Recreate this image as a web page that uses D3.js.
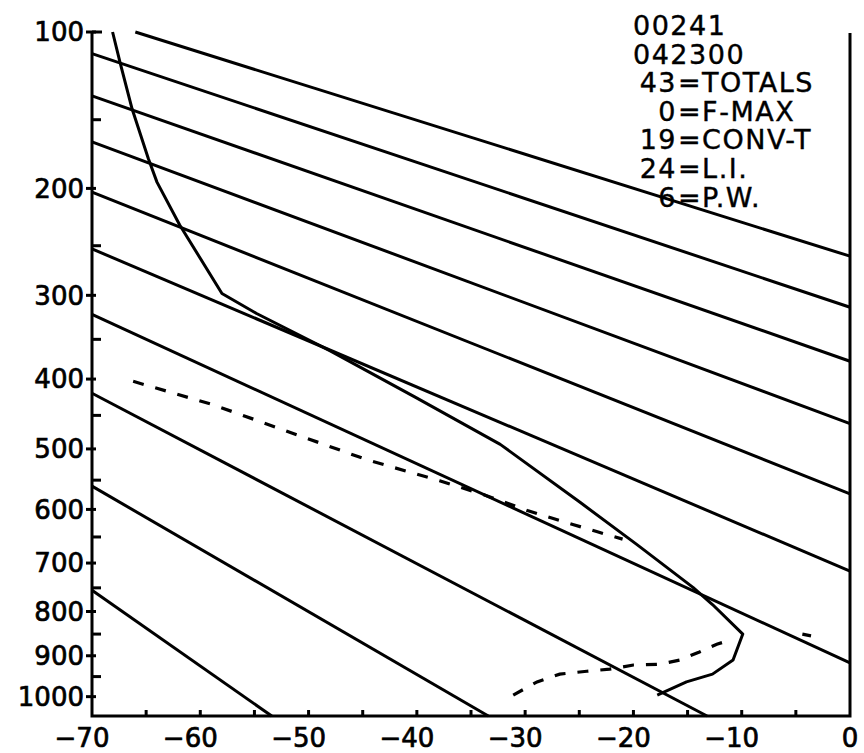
<!DOCTYPE html>
<html>
<head>
<meta charset="utf-8">
<script src="https://cdn.jsdelivr.net/npm/d3@7"></script>
<style>
  body { margin: 0; background: #fff; }
  svg { display: block; }
  text { font-family: "DejaVu Sans", sans-serif; fill: #000; }
</style>
</head>
<body>
<svg id="chart" width="864" height="753"></svg>
<script>
const tempProfile = [
    [-68.1, 100], [-67.4, 116], [-66.3, 143], [-64.8, 177], [-64.0, 195],
    [-61.9, 231], [-58.0, 298], [-54.8, 320], [-48.0, 364], [-40.2, 424],
    [-32.3, 493], [-24.9, 588], [-19.7, 664], [-14.5, 749], [-12.7, 785],
    [-9.9, 850], [-10.8, 910], [-12.7, 944], [-15.1, 963], [-17.8, 996]
];
const dewUpper = [
    [-66.2, 403], [-58.8, 435], [-50.8, 480], [-44.6, 517], [-37.9, 551],
    [-33.9, 574], [-29.8, 602], [-25.6, 627], [-23.4, 640], [-21.0, 654]
];
const dewLower = [
    [-31.1, 996], [-28.9, 963], [-26.8, 944], [-24.3, 937], [-22.2, 932],
    [-20.0, 922], [-17.5, 920], [-15.7, 910], [-13.9, 891], [-12.3, 873],
    [-10.8, 862]
];
const dewStray = [[-4.4, 850], [-3.6, 854]];

// dry adiabats, start and end points [T1, p1, T2, p2]
const adiabats = [
    [-66.0, 100, 0, 260],
    [-70, 111, 0, 313],
    [-70, 135, 0, 377],
    [-70, 165, 0, 462],
    [-70, 203, 0, 573],
    [-70, 253, 0, 716],
    [-70, 321, 0, 917],
    [-70, 419, -13.2, 1050],
    [-70, 560, -33.4, 1050],
    [-70, 755, -53.4, 1050]
];

const pressureTicks = [100, 200, 300, 400, 500, 600, 700, 800, 900, 1000];
const pressureMinor = [150, 250, 350, 450, 550, 650, 750, 850, 950];
const tempTicks = [-70, -60, -50, -40, -30, -20, -10, 0];
const tempMinor = d3.range(-65, 0, 5);

const headerLines = ["00241", "042300"];
const indexValues = ["43", "0", "19", "24", "6"];
const indexNames = ["TOTALS", "F-MAX", "CONV-T", "L.I.", "P.W."];

const svg = d3.select("#chart");

let x = d3.scaleLinear().domain([-70, 0]).range([92, 850]);
let y = d3.scalePow().exponent(0.2857).domain([100, 1050]).range([32, 716]);

let line = d3.line().x(d => x(d[0])).y(d => y(d[1]));
let W = 3;

// frame
svg.append("path")
    .attr("d", "M" + x(-70) + "," + (y(100) - 1) + " V" + y(1050) + " H" + x(0) + " V" + (y(100) + 1))
    .attr("fill", "none").attr("stroke", "#000").attr("stroke-width", W);
svg.append("line")
    .attr("x1", x(-70)).attr("x2", x(-70) + 10).attr("y1", y(100)).attr("y2", y(100))
    .attr("stroke", "#000").attr("stroke-width", W);

// left axis ticks
let g = svg.append("g");
pressureTicks.forEach(function(p) {
    g.append("line")
        .attr("x1", x(-70) - 6).attr("x2", x(-70) + 4)
        .attr("y1", y(p)).attr("y2", y(p))
        .attr("stroke", "#000").attr("stroke-width", W);
    g.append("text")
        .attr("x", 84).attr("y", y(p))
        .attr("dy", "0.36em")
        .attr("text-anchor", "end")
        .style("font-size", "26px")
        .style("stroke", "#000").style("stroke-width", "0.7px")
        .text(p);
});
pressureMinor.forEach(function(p) {
    g.append("line")
        .attr("x1", x(-70)).attr("x2", x(-70) + 9)
        .attr("y1", y(p)).attr("y2", y(p))
        .attr("stroke", "#000").attr("stroke-width", W);
});

// bottom axis ticks
tempMinor.forEach(function(t) {
    g.append("line")
        .attr("x1", x(t)).attr("x2", x(t))
        .attr("y1", y(1050)).attr("y2", y(1050) - 6)
        .attr("stroke", "#000").attr("stroke-width", W);
});
tempTicks.forEach(function(t) {
    g.append("text")
        .attr("x", x(t) + (t < 0 ? -10 : 0)).attr("y", 747)
        .attr("text-anchor", "middle")
        .style("font-size", "26px")
        .style("stroke", "#000").style("stroke-width", "0.7px")
        .text(d3.format("d")(t));
});

// adiabats
svg.append("g").selectAll("line")
    .data(adiabats)
    .enter().append("line")
    .attr("x1", d => x(d[0])).attr("y1", d => y(d[1]))
    .attr("x2", d => x(d[2])).attr("y2", d => y(d[3]))
    .attr("stroke", "#000").attr("stroke-width", W);

// temperature
svg.append("path")
    .attr("d", line(tempProfile))
    .attr("fill", "none").attr("stroke", "#000").attr("stroke-width", W)
    .attr("stroke-linejoin", "round");

// dew point, dashed
[dewUpper, dewLower, dewStray].forEach(function(seg) {
    svg.append("path")
        .attr("d", line(seg))
        .attr("fill", "none").attr("stroke", "#000").attr("stroke-width", 3.2)
        .attr("stroke-dasharray", "11,12");
});

// header text
let info = svg.append("g").style("font-size", "27px").style("letter-spacing", "1.5px")
    .style("stroke", "#000").style("stroke-width", "0.4px");
headerLines.forEach(function(s, i) {
    info.append("text").attr("x", 633).attr("y", 35 + i * 28.6).text(s);
});
indexValues.forEach(function(v, i) {
    info.append("text").attr("x", 677).attr("y", 35 + (i + 2) * 28.6)
        .attr("text-anchor", "end").text(v);
    info.append("text").attr("x", 678).attr("y", 35 + (i + 2) * 28.6)
        .text("=" + indexNames[i]);
});
</script>
</body>
</html>
